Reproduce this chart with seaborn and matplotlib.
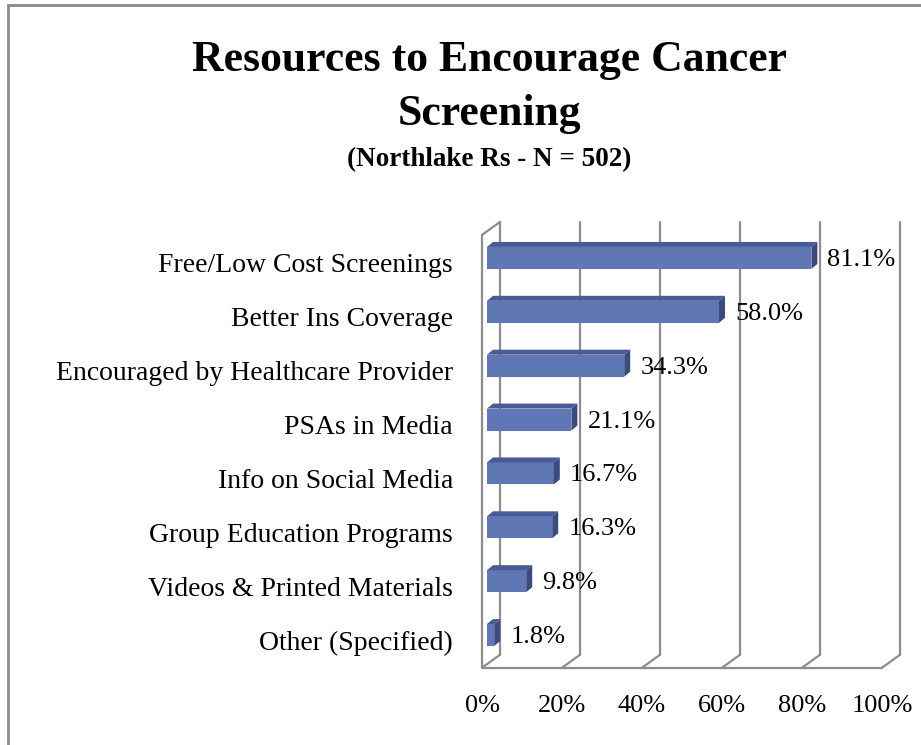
import numpy as np
import matplotlib
matplotlib.use("Agg")
import matplotlib.pyplot as plt
from matplotlib.patches import Polygon
from matplotlib.lines import Line2D
import seaborn as sns

sns.set_theme(style="white")
plt.rcParams['font.family'] = ['Liberation Serif', 'DejaVu Serif']
plt.rcParams['text.color'] = 'black'

# data
categories = [
    "Free/Low Cost Screenings",
    "Better Ins Coverage",
    "Encouraged by Healthcare Provider",
    "PSAs in Media",
    "Info on Social Media",
    "Group Education Programs",
    "Videos & Printed Materials",
    "Other (Specified)",
]
values = [81.1, 58.0, 34.3, 21.1, 16.7, 16.3, 9.8, 1.8]
tick_values = [0, 20, 40, 60, 80, 100]
tick_labels = ["0%", "20%", "40%", "60%", "80%", "100%"]

W, H = 921, 745
fig = plt.figure(figsize=(W / 100, H / 100), dpi=100)

# axes area in pixels: x 487..887 (0..100%), y 231..662 (8 rows)
ax_left, ax_top, ax_w, ax_h = 487, 231, 400, 431
ax = fig.add_axes([ax_left / W, 1 - (ax_top + ax_h) / H, ax_w / W, ax_h / H])

PX_X = 100 / ax_w        # data units per pixel, x
PX_Y = 8 / ax_h          # data units per pixel, y (inverted axis)

grid_col = "#8C8C8C"
front_col = "#6077B6"
top_col = "#4A5B93"
side_col = "#3C4A7E"

# 3D walls: front plane shifted left 5px, back plane right 13px / up 13px
y_lo, y_hi = -0.427, 7.607
fdx = -5 * PX_X
bdx, bdy = 13 * PX_X, -13 * PX_Y
lw = 1.6
kw = dict(color=grid_col, lw=lw, clip_on=False, zorder=1)
for t in tick_values:
    ax.plot([t + bdx, t + bdx], [y_lo + bdy, y_hi + bdy], **kw)
    ax.plot([t + fdx, t + bdx], [y_hi, y_hi + bdy], **kw)
# left wall
ax.plot([fdx, fdx], [y_lo, y_hi], **kw)
ax.plot([fdx, bdx], [y_lo, y_lo + bdy], **kw)
# floor front edge
ax.plot([fdx, 100 + fdx], [y_hi, y_hi], **kw)

bar_h = 22 / (ax_h / 8)
sns.barplot(x=values, y=categories, orient="h", color=front_col, saturation=1,
            width=bar_h, ax=ax, zorder=3, edgecolor=front_col, linewidth=0)

ddx, ddy = 6 * PX_X, -5 * PX_Y
for i, (p, v) in enumerate(zip(ax.patches, values)):
    x0 = p.get_x()
    x1 = x0 + p.get_width()
    yt = p.get_y()
    yb = yt + p.get_height()
    top = Polygon([(x0, yt), (x1, yt), (x1 + ddx, yt + ddy), (x0 + ddx, yt + ddy)],
                  closed=True, facecolor=top_col, edgecolor="none", zorder=4, clip_on=False)
    side = Polygon([(x1, yt), (x1, yb), (x1 + ddx, yb + ddy), (x1 + ddx, yt + ddy)],
                   closed=True, facecolor=side_col, edgecolor="none", zorder=4, clip_on=False)
    ax.add_patch(top)
    ax.add_patch(side)
    ax.text(x1 + 16 * PX_X, i + 2 * PX_Y, f"{v:.1f}%", ha="left", va="center",
            fontsize=19, color="black", zorder=5, clip_on=False)

# category labels
for i, c in enumerate(categories):
    ax.text(-34 * PX_X, i + 8 * PX_Y, c, ha="right", va="center",
            fontsize=20, color="black", clip_on=False)

# x tick labels under the front plane
for t, lab in zip(tick_values, tick_labels):
    ax.text(t + fdx, (706 - 258) / (ax_h / 8), lab, ha="center", va="center",
            fontsize=19, color="black", clip_on=False)

ax.set_xlim(0, 100)
ax.set_ylim(7.5, -0.5)
ax.set_xticks([])
ax.set_yticks([])
ax.set_xlabel("")
ax.set_ylabel("")
for s in ax.spines.values():
    s.set_visible(False)
ax.patch.set_alpha(0)

# titles
cx = 489 / W
fig.text(cx, 1 - 60 / H, "Resources to Encourage Cancer", ha="center", va="center",
         fontsize=31.5, fontweight="bold", color="black")
fig.text(cx, 1 - 114 / H, "Screening", ha="center", va="center",
         fontsize=31.5, fontweight="bold", color="black")
fig.text(cx, 1 - 160 / H, "(Northlake Rs - N = 502)", ha="center", va="center",
         fontsize=19.5, fontweight="bold", color="black")

# outer chart border (top and left edges visible)
fig.add_artist(Line2D([8 / W, 1], [1 - 5 / H, 1 - 5 / H], color="#8A8A8A", lw=2))
fig.add_artist(Line2D([8 / W, 8 / W], [0, 1 - 5 / H], color="#8A8A8A", lw=2))

fig.savefig("out.png", dpi=100)
